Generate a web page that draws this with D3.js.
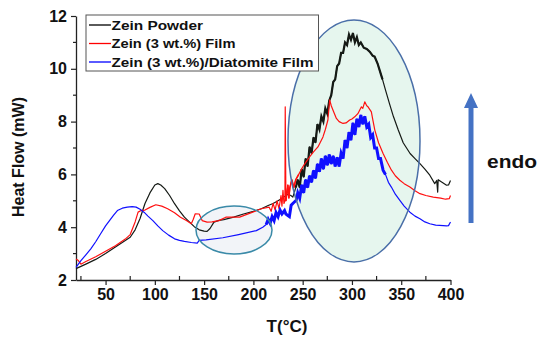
<!DOCTYPE html>
<html><head><meta charset="utf-8">
<script src="https://cdn.jsdelivr.net/npm/d3@7"></script>
<style>body{margin:0;background:#fff}svg{display:block}text{font-family:"Liberation Sans",Arial,sans-serif;font-weight:bold}</style>
</head><body><svg id="c" width="540" height="337"></svg>
<script>
const seriesNames = ["Zein Powder", "Zein (3 wt.%) Film", "Zein (3 wt.%)/Diatomite Film"];
const seriesColors = ["#000000", "#ff0000", "#0000ff"];
const xTicks = [50,100,150,200,250,300,350,400];
const yTicks = [2,4,6,8,10,12];

const powder = [[20,2.43],[30,2.6],[40,2.78],[50,3.0],[60,3.25],[70,3.5],[75,3.62],[80,3.9],[85,4.33],[90,4.9],[95,5.3],[100,5.6],[103,5.65],[106,5.6],[110,5.46],[115,5.2],[120,4.89],[125,4.62],[130,4.38],[135,4.2],[140,4.02],[145,3.9],[150,3.85],[153,3.84],[156,3.95],[160,4.19],[165,4.26],[170,4.29],[180,4.38],[190,4.5],[200,4.6],[208,4.7],[215,4.82],[220,4.9],[225,5.0],[230,5.12],[235,5.25],[238,5.2],[240,5.14],[243,5.5],[245,5.8],[247,5.5],[249,6.2],[251,5.9],[253,6.6],[255,6.3],[257,7.04],[259,6.8],[261,7.4],[263,7.2],[265,7.9],[267,7.7],[269,8.2],[271,8.0],[273,8.5],[275,8.3],[277,8.8],[279,9.0],[281,9.5],[283,9.6],[285,10.1],[287,10.2],[289,10.6],[291,10.6],[293,11.0],[295,10.9],[297,11.3],[299,11.1],[301,11.35],[303,11.0],[305,11.2],[307,10.9],[309,11.0],[312,10.8],[315,10.75],[318,10.65],[321,10.5],[323,10.46],[326,10.2],[328,9.96],[331,9.6],[334,9.2],[338,8.69],[342,8.2],[347,7.68],[352,7.2],[359,6.79],[364,6.6],[369,6.41],[374,6.2],[379,5.97],[384,5.65],[386,5.77],[387,5.33],[387.5,5.8],[391,5.71],[396,5.59],[398,5.6],[400,5.77]];

const film = [[20,2.8],[22,2.75],[25,2.6],[30,2.7],[40,2.88],[50,3.09],[60,3.3],[70,3.55],[75,3.72],[80,4.2],[83,4.57],[86,4.63],[90,4.65],[95,4.75],[101,4.85],[107,4.8],[113,4.7],[120,4.55],[126,4.38],[132,4.25],[137,4.13],[139,4.3],[141,4.51],[145,4.5],[148,4.25],[153,4.19],[158,4.2],[165,4.25],[172,4.38],[186,4.38],[198,4.55],[208,4.7],[216,4.76],[218,4.6],[220,4.9],[222,4.65],[224,5.0],[226,4.7],[228,5.2],[229,4.8],[230,5.4],[231,4.9],[232,5.0],[232.3,8.56],[233,5.0],[235,5.6],[236,5.1],[237,5.5],[239,5.8],[241,5.5],[243,5.8],[246,6.0],[250,6.28],[254,6.5],[257,6.66],[261,6.85],[265.5,7.04],[270.6,7.42],[273,7.7],[275.6,8.06],[277.4,8.82],[279,8.6],[280.7,8.44],[284.2,8.12],[287,8.0],[290.9,7.93],[294,7.95],[297.7,8.06],[300,8.1],[302.8,8.18],[306,8.3],[309.6,8.56],[311,8.5],[313,8.75],[315,8.6],[316.3,8.56],[319.7,8.37],[321,8.1],[323.2,7.68],[327,7.2],[331.6,6.79],[336,6.45],[340.1,6.16],[344,5.95],[348.6,5.78],[353,5.65],[358.8,5.52],[364,5.38],[369,5.27],[375,5.2],[382.5,5.14],[390,5.1],[395,5.06],[398.7,5.08],[400,5.2]];

const diatomite = [[20,2.48],[25,2.73],[30,2.95],[35,3.18],[40,3.45],[45,3.75],[50,4.05],[54,4.25],[58,4.45],[62,4.63],[67,4.72],[72,4.76],[77,4.78],[81,4.76],[85,4.68],[89,4.57],[93,4.42],[98,4.25],[103,4.05],[108,3.87],[114,3.7],[120,3.56],[125,3.5],[130,3.46],[137,3.42],[143,3.4],[145,3.5],[152,3.52],[169,3.6],[185,3.72],[203,3.87],[209.5,4.0],[213,4.1],[215,4.3],[217,4.15],[219,4.4],[221,4.25],[223,4.55],[225,4.4],[227,4.65],[229,4.5],[231.6,4.63],[233,4.5],[235,4.44],[236.5,4.4],[238.3,4.83],[240,4.9],[243.4,5.02],[245,5.3],[247,5.1],[249,5.6],[251,5.3],[253,5.8],[255,5.5],[257,5.95],[259,5.7],[261,6.15],[263,5.85],[265,6.4],[267,6.1],[269,6.6],[271,6.2],[273,6.7],[275,6.35],[277,6.75],[279,6.4],[281,6.7],[283,6.3],[285,6.65],[287,6.3],[289,6.8],[291,6.6],[293,7.3],[295,7.0],[297,7.6],[299,7.3],[301,7.95],[303,7.5],[305,8.1],[307,7.8],[309,8.25],[311,7.9],[313,8.2],[315,7.8],[317,7.9],[319,7.4],[321,7.5],[323,7.0],[325,7.0],[327,6.6],[329,6.6],[331.6,6.16],[334,6.0],[337,5.7],[340,5.52],[344,5.25],[348.6,5.02],[353,4.8],[358.8,4.57],[364,4.42],[369,4.32],[374,4.2],[379,4.13],[385,4.08],[392.6,4.06],[396,4.05],[398,4.06],[400,4.2]];

// temperature ranges where the recorded signal is noisy (drawn heavier)
const noisyRanges = [[243,332],[233,246],[213,335]];
const noisyWidths = [2.2, 1.5, 3];

const svg = d3.select("#c");
const x = d3.scaleLinear().domain([20,400]).range([76,450.5]);
const y = d3.scaleLinear().domain([2,12]).range([280,16]);

const big = {cx:354, cy:141, rx:66, ry:121};
const small = {cx:234, cy:230, rx:38, ry:24};
svg.append("ellipse").attr("cx",big.cx).attr("cy",big.cy).attr("rx",big.rx).attr("ry",big.ry).attr("fill","#e6f6ee");
svg.append("ellipse").attr("cx",small.cx).attr("cy",small.cy).attr("rx",small.rx).attr("ry",small.ry).attr("fill","#f2f4f8");

const xAxis = d3.axisBottom(x).tickValues(xTicks).tickSize(5).tickSizeOuter(0).tickPadding(4);
const gx = svg.append("g").attr("transform","translate(0,280)").call(xAxis);
gx.selectAll("text").attr("font-size",16).attr("font-family","Liberation Sans, Arial").attr("font-weight","bold").attr("fill","#111");
gx.select(".domain").attr("stroke","#222").attr("stroke-width",1.3);
gx.selectAll(".tick line").attr("stroke","#222").attr("stroke-width",1.2);
const xMinor = d3.range(25,400,50);
svg.append("g").selectAll("line").data(xMinor).join("line")
  .attr("x1",d=>x(d)).attr("x2",d=>x(d)).attr("y1",276).attr("y2",280).attr("stroke","#222").attr("stroke-width",1.2);

const yAxis = d3.axisLeft(y).tickValues(yTicks).tickSize(5).tickSizeOuter(0).tickPadding(4);
const gy = svg.append("g").attr("transform","translate(76,0)").call(yAxis);
gy.selectAll("text").attr("font-size",16).attr("font-family","Liberation Sans, Arial").attr("font-weight","bold").attr("fill","#111");
gy.select(".domain").attr("stroke","#222").attr("stroke-width",1.3);
gy.selectAll(".tick line").attr("stroke","#222").attr("stroke-width",1.2);
const yMinor = d3.range(3,12,2);
svg.append("g").selectAll("line").data(yMinor).join("line")
  .attr("x1",73).attr("x2",76).attr("y1",d=>y(d)).attr("y2",d=>y(d)).attr("stroke","#222").attr("stroke-width",1.2);

const line = d3.line().x(d=>x(d[0])).y(d=>y(d[1])).curve(d3.curveLinear);
const curveColors = ["#151a15", "#ff1010", "#1010ff"];
[powder, film, diatomite].forEach((s,i)=>{
  svg.append("path").datum(s).attr("d",line).attr("fill","none")
    .attr("stroke", curveColors[i]).attr("stroke-width",1.2).attr("stroke-linejoin","round");
  const r = noisyRanges[i];
  svg.append("path").datum(s.filter(d=>d[0]>=r[0] && d[0]<=r[1])).attr("d",line).attr("fill","none")
    .attr("stroke", curveColors[i]).attr("stroke-width",noisyWidths[i]).attr("stroke-linejoin","miter");
});

svg.append("ellipse").attr("cx",big.cx).attr("cy",big.cy).attr("rx",big.rx).attr("ry",big.ry)
  .attr("fill","none").attr("stroke","#4a6fa8").attr("stroke-width",1.5);
svg.append("ellipse").attr("cx",small.cx).attr("cy",small.cy).attr("rx",small.rx).attr("ry",small.ry)
  .attr("fill","none").attr("stroke","#3a8aa8").attr("stroke-width",1.5);

const lg = svg.append("g");
lg.append("rect").attr("x",86).attr("y",15).attr("width",232.5).attr("height",56)
  .attr("fill","#fff").attr("stroke","#555").attr("stroke-width",1);
const rowsY = [25,43.5,62];
const textLens = [91.5, 124, 202];
seriesNames.forEach((n,i)=>{
  lg.append("line").attr("x1",89).attr("x2",111).attr("y1",rowsY[i]).attr("y2",rowsY[i])
    .attr("stroke",seriesColors[i]).attr("stroke-width",1.3);
  lg.append("text").attr("x",111.5).attr("y",rowsY[i]+4.5).attr("font-size",13).attr("fill","#111")
    .attr("textLength",textLens[i]).attr("lengthAdjust","spacingAndGlyphs").text(n);
});

svg.append("text").attr("transform","translate(24,157) rotate(-90)").attr("text-anchor","middle")
  .attr("font-size",16).attr("fill","#111").text("Heat Flow (mW)");
svg.append("text").attr("x",287).attr("y",332).attr("text-anchor","middle")
  .attr("font-size",17).attr("fill","#111").text("T(°C)");

svg.append("line").attr("x1",471).attr("x2",471).attr("y1",223).attr("y2",106)
  .attr("stroke","#4472c4").attr("stroke-width",5);
svg.append("path").attr("d","M471,93 L464,108 L478,108 Z").attr("fill","#4472c4");
svg.append("text").attr("x",487).attr("y",168).attr("font-size",18).attr("fill","#111")
  .attr("textLength",50).attr("lengthAdjust","spacingAndGlyphs").text("endo");
</script></body></html>
